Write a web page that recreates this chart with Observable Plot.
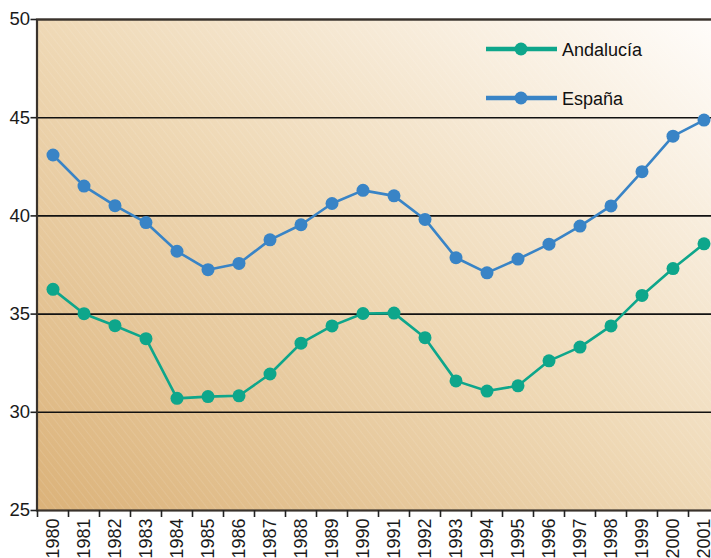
<!DOCTYPE html>
<html><head><meta charset="utf-8">
<script src="https://cdn.jsdelivr.net/npm/d3@7"></script>
<script src="https://cdn.jsdelivr.net/npm/@observablehq/plot@0.6"></script>
<style>
html,body{margin:0;padding:0;background:#fff;overflow:hidden;}
#wrap{position:relative;width:711px;height:558px;overflow:hidden;}
#chart svg{max-width:none !important;width:720px !important;height:558px !important;}
#legend{position:absolute;left:0;top:0;pointer-events:none;}
</style></head><body>
<div id="wrap"><div id="chart"></div><svg id="legend" width="711" height="120"></svg></div>
<script>
const years = ["1980","1981","1982","1983","1984","1985","1986","1987","1988","1989","1990",
  "1991","1992","1993","1994","1995","1996","1997","1998","1999","2000","2001"];
const andalucia = [36.26,35.02,34.41,33.75,30.71,30.80,30.84,31.95,33.52,34.40,35.03,
  35.05,33.80,31.60,31.08,31.35,32.62,33.32,34.40,35.95,37.32,38.58];
const espana = [43.10,41.52,40.52,39.66,38.20,37.26,37.58,38.78,39.55,40.63,41.30,
  41.02,39.82,37.87,37.10,37.80,38.56,39.48,40.51,42.25,44.06,44.88];
const seriesNames = ["Andalucía","España"];
const seriesColors = ["#0ea68b","#3984c6"];
const yTicks = [25,30,35,40,45,50];
const gridValues = [30,35,40,45,50];

const data = [
  ...years.map((y,i)=>({year:y, value:andalucia[i], serie:seriesNames[0]})),
  ...years.map((y,i)=>({year:y, value:espana[i], serie:seriesNames[1]}))
];

const font = "'Liberation Sans', Arial, sans-serif";

const chart = Plot.plot({
  width: 720,
  height: 558,
  marginLeft: 36.5,
  marginRight: 0.5,
  marginTop: 19,
  marginBottom: 48,
  style: {fontFamily: font, fontSize: "18px", color: "#1a1a1a", background: "transparent", overflow: "visible", maxWidth: "none"},
  x: {type: "band", domain: years, padding: 0},
  y: {domain: [25, 50]},
  color: {domain: seriesNames, range: seriesColors},
  marks: [
    Plot.frame({fill: "url(#bgGrad)"}),
    Plot.frame({fill: "url(#hatch)"}),
    Plot.ruleY(gridValues, {stroke: "#111", strokeWidth: 1.6}),
    Plot.frame({stroke: "#3a332c", strokeWidth: 2.2}),
    Plot.axisY({ticks: yTicks, tickSize: 6, tickPadding: 1, fontSize: 18.5, label: null, stroke: "#222", strokeWidth: 1.6}),
    Plot.axisX({tickSize: 7, tickFormat: () => "", dx: -15.5, label: null, stroke: "#222", strokeWidth: 1.6}),
    Plot.axisX({tickSize: 0, tickPadding: 8, tickRotate: -90, fontSize: 18, label: null}),
    Plot.line(data, {x: "year", y: "value", stroke: "serie", strokeWidth: 2.6}),
    Plot.dot(data, {x: "year", y: "value", fill: "serie", r: 6.5})
  ]
});

const svgNS = "http://www.w3.org/2000/svg";
const defs = document.createElementNS(svgNS, "defs");
defs.innerHTML = `
  <linearGradient id="bgGrad" x1="0" y1="1" x2="1" y2="0">
    <stop offset="0" stop-color="#dbb279"/>
    <stop offset="0.5" stop-color="#efd9b6"/>
    <stop offset="1" stop-color="#fffdfb"/>
  </linearGradient>
  <pattern id="hatch" patternUnits="userSpaceOnUse" width="6" height="6" patternTransform="rotate(-38)">
    <line x1="0" y1="0" x2="0" y2="6" stroke="#ffffff" stroke-opacity="0.13" stroke-width="1.5"/>
  </pattern>`;
chart.insertBefore(defs, chart.firstChild);
document.getElementById("chart").appendChild(chart);

// Legend
const leg = d3.select("#legend");
seriesNames.forEach((name, i) => {
  const cy = 49 + i * 49;
  leg.append("line").attr("x1", 486).attr("x2", 557).attr("y1", cy).attr("y2", cy)
    .attr("stroke", seriesColors[i]).attr("stroke-width", 4.5);
  leg.append("circle").attr("cx", 521).attr("cy", cy).attr("r", 6.5).attr("fill", seriesColors[i]);
  leg.append("text").attr("x", 562).attr("y", cy + 6.5).attr("font-family", font)
    .attr("font-size", 18).attr("fill", "#111").text(name);
});
</script>
</body></html>
